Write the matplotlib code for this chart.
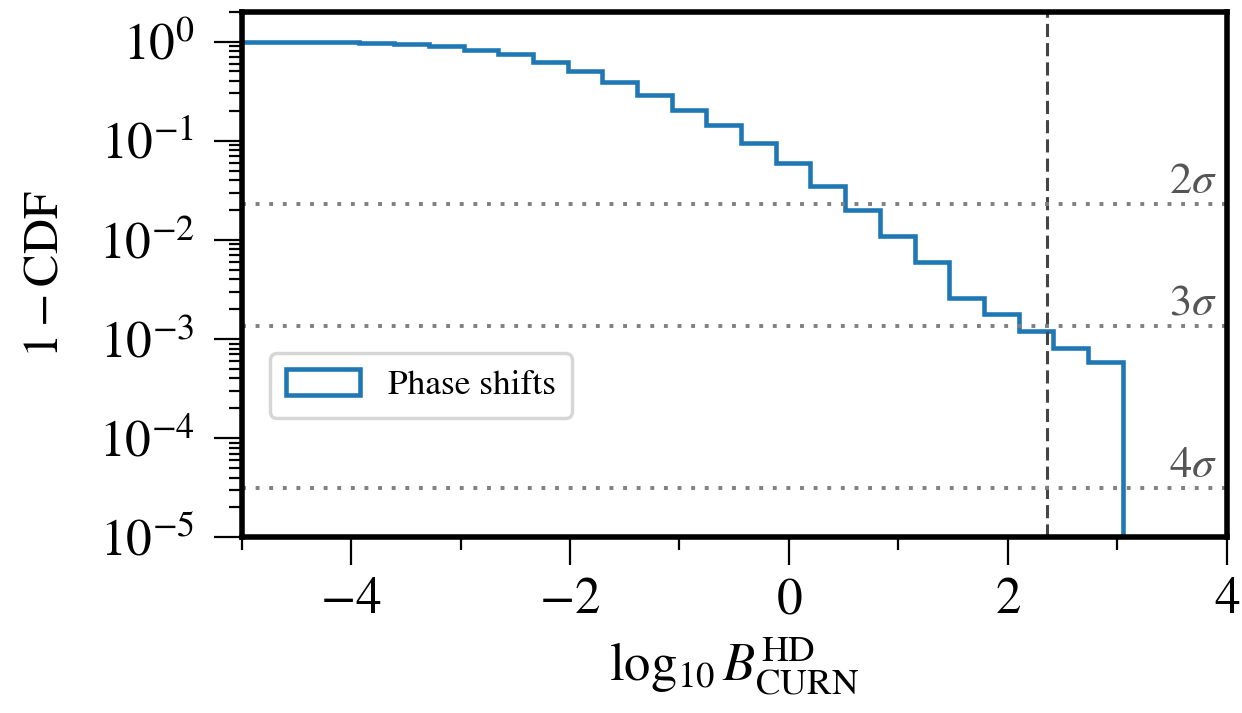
import numpy as np
import matplotlib
matplotlib.use("Agg")
import matplotlib.pyplot as plt
from matplotlib.patches import Patch
from matplotlib.ticker import LogLocator, NullFormatter

plt.rcParams["font.family"] = "STIXGeneral"
plt.rcParams["mathtext.fontset"] = "stix"

# histogram of log10 Bayes factors (1 - CDF per bin)
bin_edges = [-5.192, -4.875, -4.558, -4.241, -3.924, -3.607, -3.290, -2.973,
             -2.656, -2.339, -2.022, -1.705, -1.388, -1.071, -0.754, -0.437,
             -0.120, 0.197, 0.514, 0.831, 1.148, 1.465, 1.782, 2.099, 2.416,
             2.733, 3.050]
surv = [1.0, 0.998, 0.993, 0.985, 0.975, 0.948, 0.911, 0.825, 0.746, 0.624,
        0.506, 0.392, 0.290, 0.205, 0.144, 0.0957, 0.0593, 0.0350, 0.0200,
        0.01095, 0.00603, 0.00257, 0.00179, 0.00121, 0.000805, 0.00059]

observed = 2.355  # observed log10 B
sigma_labels = [r"$2\sigma$", r"$3\sigma$", r"$4\sigma$"]
sigma_levels = [0.02275, 0.00135, 3.17e-5]

blue = "#1f77b4"

fig = plt.figure(figsize=(12.42, 7.13), dpi=100)
ax = fig.add_axes([0.1946, 0.2464, 0.7931, 0.7372])

ax.stairs(surv, bin_edges, baseline=1e-9, color=blue, lw=3.3)
ax.axvline(observed, color="#444444", ls=(0, (4.3, 2)), lw=2.2)
for lab, lev in zip(sigma_labels, sigma_levels):
    ax.axhline(lev, color="#808080", ls=(0, (1, 2.5)), lw=2.8)
    ax.annotate(lab, xy=(1, lev), xycoords=ax.get_yaxis_transform(),
                xytext=(-7, 8), textcoords="offset points",
                ha="right", va="baseline", fontsize=32, color="#555555")

ax.set_yscale("log")
ax.set_xlim(-5, 4)
ax.set_ylim(1e-5, 2)
ax.yaxis.set_major_locator(LogLocator(base=10, numticks=20))
ax.yaxis.set_minor_locator(LogLocator(base=10, subs=np.arange(2, 10),
                                      numticks=20))
ax.yaxis.set_minor_formatter(NullFormatter())
ax.set_xticks([-4, -2, 0, 2, 4])
ax.set_xticks([-5, -3, -1, 1, 3], minor=True)
ax.set_xticklabels([r"$-4$", r"$-2$", r"$0$", r"$2$", r"$4$"])

for s in ax.spines.values():
    s.set_linewidth(4)
ax.tick_params(which="major", direction="out", length=20, width=1.6,
               labelsize=37, pad=9)
ax.tick_params(axis="y", which="major", pad=14)
ax.tick_params(which="minor", direction="out", length=9.5, width=1.6)

ax.set_xlabel(r"$\log_{10} B^{\mathrm{HD}}_{\mathrm{CURN}}$", fontsize=38,
              labelpad=8)
ax.set_ylabel(r"$1-\mathrm{CDF}$", fontsize=35, labelpad=22)

handle = Patch(facecolor="none", edgecolor=blue, lw=3.3)
leg = ax.legend([handle], ["Phase shifts"], loc="lower left",
                bbox_to_anchor=(0.0284, 0.227), borderaxespad=0,
                fontsize=25.5, handlelength=2.1, handleheight=0.75,
                handletextpad=0.8, borderpad=0.45, fancybox=True)
leg.get_frame().set_edgecolor("#cccccc")
leg.get_frame().set_linewidth(2.5)

fig.savefig("out.png", dpi=100)
